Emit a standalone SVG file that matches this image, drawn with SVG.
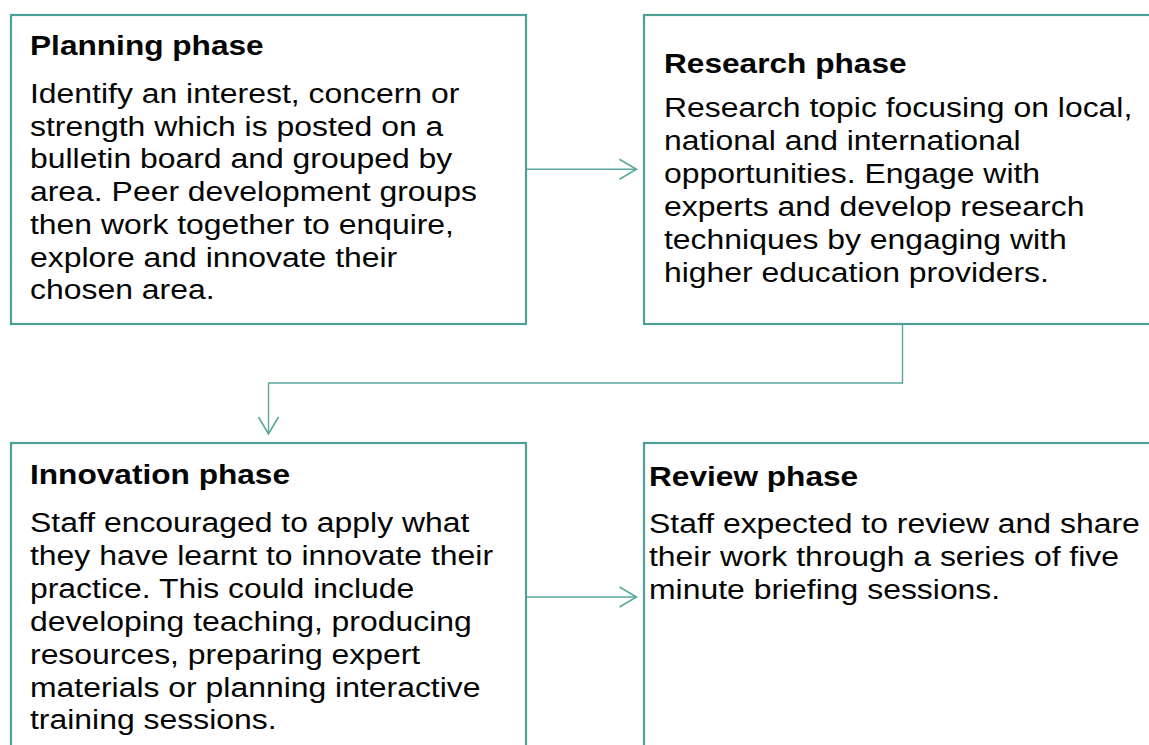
<svg xmlns="http://www.w3.org/2000/svg" width="1149" height="745" viewBox="0 0 1149 745">
<style>
.box{fill:#ffffff;stroke:#4e9f96;stroke-width:2.2}
.t{font-family:"Liberation Sans",Arial,sans-serif;font-size:28px;fill:#050505}
.h{font-weight:bold}
.c{fill:none;stroke:#5aa89e;stroke-width:1.4}
</style>
<defs>
<marker id="arr" markerWidth="20" markerHeight="24" refX="17" refY="10" orient="auto" markerUnits="userSpaceOnUse" viewBox="0 0 20 24" overflow="visible">
<path d="M0,0 L17,10 L0,20" fill="none" stroke="#5aa89e" stroke-width="1.6"/>
</marker>
</defs>
<rect width="1149" height="745" fill="#ffffff"/>
<g id="planning">
<rect class="box" x="11" y="15" width="515" height="309"/>
<text class="t h" transform="translate(30,55) scale(1.13,1)">Planning phase</text>
<text class="t" transform="translate(30,102.7) scale(1.14,1)">Identify an interest, concern or</text>
<text class="t" transform="translate(30,135.5) scale(1.14,1)">strength which is posted on a</text>
<text class="t" transform="translate(30,168.3) scale(1.14,1)">bulletin board and grouped by</text>
<text class="t" transform="translate(30,201) scale(1.14,1)">area. Peer development groups</text>
<text class="t" transform="translate(30,233.8) scale(1.14,1)">then work together to enquire,</text>
<text class="t" transform="translate(30,266.6) scale(1.14,1)">explore and innovate their</text>
<text class="t" transform="translate(30,299.4) scale(1.14,1)">chosen area.</text>
</g>
<g id="research">
<rect class="box" x="644" y="15" width="520" height="309"/>
<text class="t h" transform="translate(664,73) scale(1.13,1)">Research phase</text>
<text class="t" transform="translate(664,117) scale(1.14,1)">Research topic focusing on local,</text>
<text class="t" transform="translate(664,150) scale(1.14,1)">national and international</text>
<text class="t" transform="translate(664,183) scale(1.14,1)">opportunities. Engage with</text>
<text class="t" transform="translate(664,216) scale(1.14,1)">experts and develop research</text>
<text class="t" transform="translate(664,249) scale(1.14,1)">techniques by engaging with</text>
<text class="t" transform="translate(664,282) scale(1.14,1)">higher education providers.</text>
</g>
<g id="innovation">
<rect class="box" x="11" y="443" width="515" height="320"/>
<text class="t h" transform="translate(30,484) scale(1.13,1)">Innovation phase</text>
<text class="t" transform="translate(30,532) scale(1.14,1)">Staff encouraged to apply what</text>
<text class="t" transform="translate(30,565) scale(1.14,1)">they have learnt to innovate their</text>
<text class="t" transform="translate(30,598) scale(1.14,1)">practice. This could include</text>
<text class="t" transform="translate(30,631) scale(1.14,1)">developing teaching, producing</text>
<text class="t" transform="translate(30,664) scale(1.14,1)">resources, preparing expert</text>
<text class="t" transform="translate(30,697) scale(1.14,1)">materials or planning interactive</text>
<text class="t" transform="translate(30,729) scale(1.14,1)">training sessions.</text>
</g>
<g id="review">
<rect class="box" x="644" y="443" width="520" height="320"/>
<text class="t h" transform="translate(649,486) scale(1.13,1)">Review phase</text>
<text class="t" transform="translate(649,533) scale(1.14,1)">Staff expected to review and share</text>
<text class="t" transform="translate(649,566) scale(1.14,1)">their work through a series of five</text>
<text class="t" transform="translate(649,599) scale(1.14,1)">minute briefing sessions.</text>
</g>
<g id="connectors">
<path class="c" d="M527,169.3 L636.5,169.3" marker-end="url(#arr)"/>
<path class="c" d="M902.5,325 L902.5,383 L268.5,383 L268.5,434" marker-end="url(#arr)"/>
<path class="c" d="M527,597 L636.5,597" marker-end="url(#arr)"/>
</g>
</svg>
